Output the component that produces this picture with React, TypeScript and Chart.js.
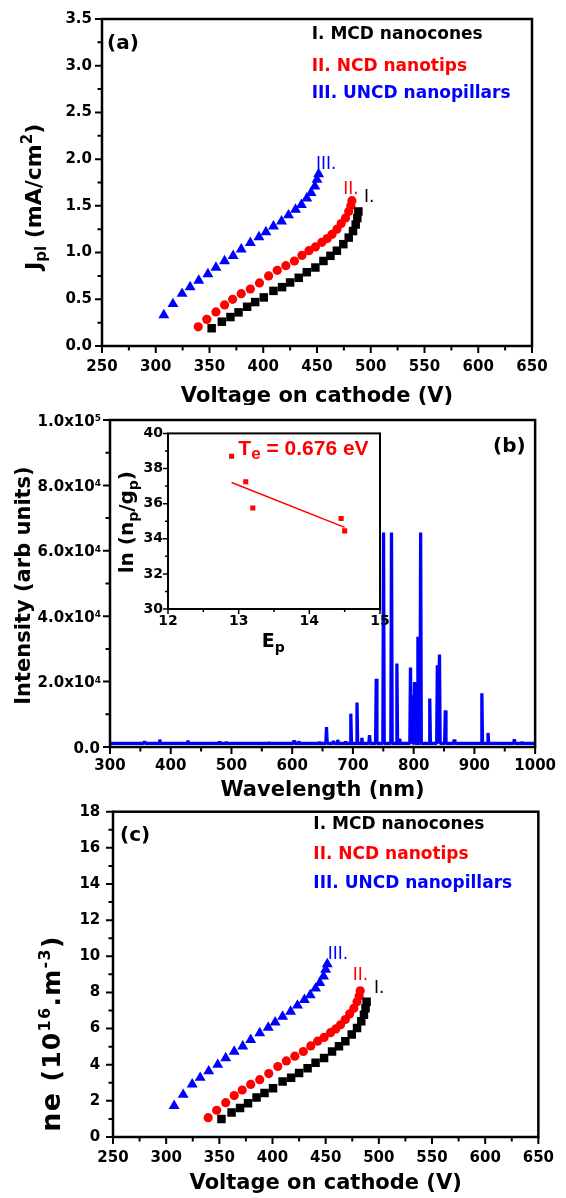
import React, { useEffect, useRef } from 'react';
import { Chart, registerables } from 'chart.js';

Chart.register(...registerables);

const DJ = '"DejaVu Sans", sans-serif';
const LS = '"Liberation Sans", Arial, sans-serif';
const BLACK = '#000000';
const RED = '#ff0000';
const BLUE = '#0000ff';

// ---------- Panel (a) / (c): cathode voltage (V)
const voltMCD = [352, 361.5, 369.5, 377, 385, 392.5, 400.5, 409.5, 417.5, 425, 433, 440.5, 448.5, 456, 462.5, 468.5, 474.5, 479.5, 483.5, 486, 487.5, 488.5];
const voltNCD = [339.5, 347.5, 356, 364, 371.5, 379.5, 388, 396.5, 405, 413, 421, 429, 436, 442.5, 448.5, 454.5, 459.5, 464, 468.5, 472.5, 476.5, 479.5, 481.5, 482.5];
const voltUNCD = [307.5, 316, 324.5, 332, 340, 348.5, 356, 364, 372, 379.5, 388, 396, 402.5, 409.5, 417, 423.5, 430, 435.5, 440.5, 444.5, 448, 450, 451.5];

// Panel (a): plasma current density J_pl (mA/cm^2)
const jplMCD = [0.19, 0.26, 0.31, 0.36, 0.42, 0.47, 0.52, 0.59, 0.63, 0.68, 0.73, 0.79, 0.84, 0.91, 0.965, 1.02, 1.09, 1.16, 1.23, 1.30, 1.37, 1.44];
const jplNCD = [0.205, 0.285, 0.365, 0.44, 0.50, 0.56, 0.61, 0.675, 0.75, 0.81, 0.86, 0.91, 0.97, 1.02, 1.06, 1.11, 1.15, 1.195, 1.25, 1.31, 1.37, 1.44, 1.50, 1.555];
const jplUNCD = [0.33, 0.45, 0.56, 0.63, 0.70, 0.77, 0.84, 0.91, 0.965, 1.035, 1.105, 1.165, 1.22, 1.28, 1.335, 1.40, 1.46, 1.51, 1.58, 1.64, 1.71, 1.78, 1.84];

// Panel (c): electron density n_e (10^16 m^-3)
const neMCD = [0.99, 1.35, 1.61, 1.87, 2.18, 2.44, 2.70, 3.07, 3.28, 3.54, 3.80, 4.11, 4.37, 4.73, 5.02, 5.30, 5.67, 6.03, 6.40, 6.76, 7.12, 7.49];
const neNCD = [1.07, 1.48, 1.90, 2.29, 2.60, 2.91, 3.17, 3.51, 3.90, 4.21, 4.47, 4.73, 5.04, 5.30, 5.51, 5.77, 5.98, 6.21, 6.50, 6.81, 7.12, 7.49, 7.80, 8.09];
const neUNCD = [1.72, 2.34, 2.91, 3.28, 3.64, 4.00, 4.37, 4.73, 5.02, 5.38, 5.75, 6.06, 6.34, 6.66, 6.94, 7.28, 7.59, 7.85, 8.22, 8.53, 8.89, 9.26, 9.57];

// Panel (b): emission spectrum
const peakWl = [357, 382, 428, 480, 491, 560, 603, 611, 645, 656.5, 668, 675, 688, 696.5, 706.7, 714.7, 727.3, 738.4, 750.4, 763.5, 772.4, 777, 794.8, 797.5, 801.5, 807, 811.5, 826.5, 839, 842.5, 852.1, 866.8, 912.3, 922.4, 965.8, 978.5];
const peakInt = [1800, 2300, 2000, 1700, 1700, 1500, 2000, 1800, 1500, 6100, 1900, 2200, 1700, 10200, 13600, 2800, 3600, 20900, 65600, 65600, 25500, 2500, 24300, 15800, 19900, 33700, 65600, 14800, 25000, 28300, 11200, 2300, 16400, 4300, 2400, 1500];
const SPEC_BASE = 1100;

// Inset: Boltzmann plot
const insetE = [12.9, 13.1, 13.2, 14.45, 14.5];
const insetLn = [38.7, 37.25, 35.75, 35.15, 34.45];
const fitE = [12.9, 14.5];
const fitLn = [37.2, 34.65];

// Tick values / labels
const aXTicks = [250, 300, 350, 400, 450, 500, 550, 600, 650];
const aYTicks = [0, 0.5, 1.0, 1.5, 2.0, 2.5, 3.0, 3.5];
const cYTicks = [0, 2, 4, 6, 8, 10, 12, 14, 16, 18];
const bXTicks = [300, 400, 500, 600, 700, 800, 900, 1000];
const bYTicks = [0, 20000, 40000, 60000, 80000, 100000];
const bYMant = ['0.0', '2.0', '4.0', '6.0', '8.0', '1.0'];
const bYExp = ['', '4', '4', '4', '4', '5'];
const inXTicks = [12, 13, 14, 15];
const inYTicks = [30, 32, 34, 36, 38, 40];

const legendNames = ['I. MCD nanocones', 'II. NCD nanotips', 'III. UNCD nanopillars'];
const curveTags = ['I.', 'II.', 'III.'];

type Seg = { t: string; size: number; dy?: number; weight?: string; family?: string };

function drawSegs(ctx: any, segs: Seg[], x: number, y: number, o: { color: string; rotate?: boolean; align?: 'left' | 'center' | 'right'; spacing?: number }) {
  ctx.save();
  ctx.fillStyle = o.color;
  ctx.textBaseline = 'alphabetic';
  ctx.textAlign = 'left';
  if ('letterSpacing' in ctx) ctx.letterSpacing = (o.spacing ?? 0) + 'px';
  const f = (s: Seg) => `${s.weight ?? 'bold'} ${s.size}px ${s.family ?? DJ}`;
  let total = 0;
  for (const s of segs) { ctx.font = f(s); total += ctx.measureText(s.t).width; }
  ctx.translate(x, y);
  if (o.rotate) ctx.rotate(-Math.PI / 2);
  let cx = o.align === 'center' ? -total / 2 : o.align === 'right' ? -total : 0;
  for (const s of segs) { ctx.font = f(s); ctx.fillText(s.t, cx, s.dy ?? 0); cx += ctx.measureText(s.t).width; }
  ctx.restore();
}

type Spec = { xMajor: number; xMinor: number; yMajor: number; yMinor: number; majorLen: number; minorLen: number; frame: number; tickW: number };

function frameTicks(spec: Spec, extra?: (chart: any, ctx: any) => void) {
  return {
    id: 'frameTicks',
    afterDraw(chart: any) {
      const ctx = chart.ctx;
      const { left, right, top, bottom } = chart.chartArea;
      const xs = chart.scales.x;
      const ys = chart.scales.y;
      ctx.save();
      ctx.strokeStyle = BLACK;
      ctx.lineWidth = spec.tickW;
      ctx.beginPath();
      for (let i = 0; xs.min + i * spec.xMinor <= xs.max + 1e-9; i++) {
        const v = xs.min + i * spec.xMinor;
        const r = v / spec.xMajor;
        const major = Math.abs(r - Math.round(r)) < 1e-6;
        const px = xs.getPixelForValue(v);
        ctx.moveTo(px, bottom);
        ctx.lineTo(px, bottom + (major ? spec.majorLen : spec.minorLen));
      }
      for (let i = 0; ys.min + i * spec.yMinor <= ys.max + 1e-9; i++) {
        const v = ys.min + i * spec.yMinor;
        const r = v / spec.yMajor;
        const major = Math.abs(r - Math.round(r)) < 1e-6;
        const py = ys.getPixelForValue(v);
        ctx.moveTo(left, py);
        ctx.lineTo(left - (major ? spec.majorLen : spec.minorLen), py);
      }
      ctx.stroke();
      ctx.lineWidth = spec.frame;
      ctx.strokeRect(left, top, right - left, bottom - top);
      ctx.restore();
      if (extra) extra(chart, ctx);
    },
  };
}

function axis(min: number, max: number, ticks: number[], fmt: (v: number) => string, size: number, pad: number, fontSize: number, isX: boolean, show = true) {
  return {
    type: 'linear',
    min,
    max,
    afterBuildTicks: (s: any) => { s.ticks = ticks.map((v) => ({ value: v })); },
    afterFit: (s: any) => { if (isX) s.height = size; else s.width = size; },
    ticks: {
      display: show,
      callback: (v: any) => fmt(Number(v)),
      font: { family: DJ, size: fontSize, weight: 'bold' },
      color: BLACK,
      padding: pad,
      maxRotation: 0,
      minRotation: 0,
      autoSkip: false,
    },
    grid: { display: false, drawTicks: false },
    border: { display: false },
  };
}

const pts = (xs: number[], ys: number[]) => xs.map((x, i) => ({ x, y: ys[i] }));

function seriesSets(yMCD: number[], yNCD: number[], yUNCD: number[]) {
  return [
    { data: pts(voltMCD, yMCD), pointStyle: 'rect', pointRadius: 6, backgroundColor: BLACK, borderWidth: 0, showLine: false },
    { data: pts(voltNCD, yNCD), pointStyle: 'circle', pointRadius: 4.6, backgroundColor: RED, borderWidth: 0, showLine: false },
    { data: pts(voltUNCD, yUNCD), pointStyle: 'triangle', pointRadius: 6.3, backgroundColor: BLUE, borderWidth: 0, showLine: false },
  ];
}

function drawLegend(ctx: any, x: number, baselines: number[], tagPos: number[][]) {
  const cols = [BLACK, RED, BLUE];
  legendNames.forEach((n, i) => drawSegs(ctx, [{ t: n, size: 17 }], x, baselines[i], { color: cols[i] }));
  curveTags.forEach((t, i) => drawSegs(ctx, [{ t, size: 17, weight: 'normal' }], tagPos[i][0], tagPos[i][1], { color: cols[i] }));
}

const baseOpts = (padding: any) => ({
  responsive: false,
  maintainAspectRatio: false,
  animation: false,
  layout: { padding },
  plugins: { legend: { display: false }, tooltip: { enabled: false } },
});

function makeA() {
  return {
    type: 'scatter',
    data: { datasets: seriesSets(jplMCD, jplNCD, jplUNCD) },
    options: {
      ...baseOpts({ left: 0, top: 16, right: 34, bottom: 0 }),
      scales: {
        x: axis(250, 650, aXTicks, (v) => String(v), 59, 12, 15, true),
        y: axis(0, 3.5, aYTicks, (v) => v.toFixed(1), 102, 10, 15, false),
      },
    },
    plugins: [frameTicks({ xMajor: 50, xMinor: 25, yMajor: 0.5, yMinor: 0.25, majorLen: 7, minorLen: 4.5, frame: 2.5, tickW: 2 }, (chart, ctx) => {
      const { left, right } = chart.chartArea;
      drawSegs(ctx, [{ t: '(a)', size: 20 }], 107, 49, { color: BLACK });
      drawLegend(ctx, 311.7, [39.3, 71, 97.7], [[364, 202.3], [343.3, 194], [316, 169.3]]);
      drawSegs(ctx, [{ t: 'Voltage on cathode (V)', size: 21 }], (left + right) / 2, 401.5, { color: BLACK, align: 'center' });
      drawSegs(ctx, [{ t: 'J', size: 22 }, { t: 'pl', size: 15, dy: 5 }, { t: ' (mA/cm', size: 22 }, { t: '2', size: 15, dy: -9 }, { t: ')', size: 22 }], 41, 270, { color: BLACK, rotate: true });
    })],
  };
}

function makeB() {
  const spectrum: { x: number; y: number }[] = [{ x: 300, y: SPEC_BASE }];
  peakWl.forEach((w, i) => {
    spectrum.push({ x: w - 1.1, y: SPEC_BASE }, { x: w, y: peakInt[i] }, { x: w + 1.1, y: SPEC_BASE });
  });
  spectrum.push({ x: 1000, y: SPEC_BASE });
  return {
    type: 'scatter',
    data: {
      datasets: [
        { data: spectrum, showLine: true, borderColor: BLUE, borderWidth: 3.3, pointRadius: 0, borderJoinStyle: 'bevel', tension: 0 },
      ],
    },
    options: {
      ...baseOpts({ left: 0, top: 15, right: 24, bottom: 0 }),
      scales: {
        x: axis(300, 1000, bXTicks, (v) => String(v), 58, 10, 15, true),
        y: axis(0, 100000, bYTicks, (v) => String(v), 110, 10, 15, false, false),
      },
    },
    plugins: [frameTicks({ xMajor: 100, xMinor: 50, yMajor: 20000, yMinor: 10000, majorLen: 7, minorLen: 4.5, frame: 2.5, tickW: 2 }, (chart, ctx) => {
      const { left, right, top, bottom } = chart.chartArea;
      const ys = chart.scales.y;
      bYTicks.forEach((v, i) => {
        const py = ys.getPixelForValue(v);
        if (bYExp[i]) {
          drawSegs(ctx, [{ t: bYMant[i] + 'x10', size: 15 }, { t: bYExp[i], size: 9, dy: -4.5 }], 101, py + 5.5, { color: BLACK, align: 'right' });
        } else {
          drawSegs(ctx, [{ t: bYMant[i], size: 15 }], 100, py + 5.5, { color: BLACK, align: 'right' });
        }
      });
      drawSegs(ctx, [{ t: '(b)', size: 20 }], 493, 47.4, { color: BLACK });
      drawSegs(ctx, [{ t: 'Wavelength (nm)', size: 21 }], (left + right) / 2, 390.6, { color: BLACK, align: 'center' });
      drawSegs(ctx, [{ t: 'Intensity (arb units)', size: 21 }], 30, (top + bottom) / 2 + 2, { color: BLACK, rotate: true, align: 'center' });
    })],
  };
}

function makeInset() {
  return {
    type: 'scatter',
    data: {
      datasets: [
        { data: pts(fitE, fitLn), showLine: true, borderColor: RED, borderWidth: 1.5, pointRadius: 0 },
        { data: pts(insetE, insetLn), pointStyle: 'rect', pointRadius: 3.6, backgroundColor: RED, borderWidth: 0, showLine: false },
      ],
    },
    options: {
      ...baseOpts({ left: 0, top: 10, right: 22, bottom: 0 }),
      scales: {
        x: axis(12, 15, inXTicks, (v) => String(v), 56, 4, 14, true),
        y: axis(30, 40, inYTicks, (v) => String(v), 56, 5, 14, false),
      },
    },
    plugins: [frameTicks({ xMajor: 1, xMinor: 0.5, yMajor: 2, yMinor: 1, majorLen: 5, minorLen: 3, frame: 2, tickW: 1.5 }, (chart, ctx) => {
      drawSegs(ctx, [{ t: 'T', size: 21, family: LS }, { t: 'e', size: 17, dy: 4, family: LS }, { t: ' = 0.676 eV', size: 21, family: LS }], 126.3, 35, { color: RED });
      drawSegs(ctx, [{ t: 'E', size: 19 }, { t: 'p', size: 14, dy: 5 }], 149.7, 226.7, { color: BLACK });
      drawSegs(ctx, [{ t: 'ln (n', size: 20 }, { t: 'p', size: 14, dy: 5 }, { t: '/g', size: 20 }, { t: 'p', size: 14, dy: 5 }, { t: ')', size: 20 }], 21, 153.3, { color: BLACK, rotate: true });
    })],
  };
}

function makeC() {
  return {
    type: 'scatter',
    data: { datasets: seriesSets(neMCD, neNCD, neUNCD) },
    options: {
      ...baseOpts({ left: 0, top: 17, right: 24, bottom: 0 }),
      scales: {
        x: axis(250, 650, aXTicks, (v) => String(v), 61, 12, 15, true),
        y: axis(0, 18, cYTicks, (v) => String(v), 113, 12.7, 15, false),
      },
    },
    plugins: [frameTicks({ xMajor: 50, xMinor: 25, yMajor: 2, yMinor: 1, majorLen: 7, minorLen: 4.5, frame: 2.5, tickW: 2 }, (chart, ctx) => {
      const { left, right } = chart.chartArea;
      drawSegs(ctx, [{ t: '(c)', size: 20 }], 120, 50.7, { color: BLACK });
      drawLegend(ctx, 313.3, [39.3, 69.3, 97.7], [[374, 203.3], [352.7, 190], [327.7, 169.3]]);
      drawSegs(ctx, [{ t: 'Voltage on cathode (V)', size: 21 }], (left + right) / 2, 399, { color: BLACK, align: 'center' });
      drawSegs(ctx, [{ t: 'ne', size: 27 }, { t: ' (10', size: 25 }, { t: '16', size: 16, dy: -10 }, { t: '.m', size: 25 }, { t: '-3', size: 16, dy: -10 }, { t: ')', size: 25 }], 60, 341.7, { color: BLACK, rotate: true, spacing: 1.3 });
    })],
  };
}

function PanelCanvas({ left, top, width, height, make }: { left: number; top: number; width: number; height: number; make: () => any }) {
  const ref = useRef<HTMLCanvasElement>(null);
  useEffect(() => {
    const chart = new Chart(ref.current as HTMLCanvasElement, make());
    return () => chart.destroy();
  }, []);
  return <canvas ref={ref} width={width} height={height} style={{ position: 'absolute', left, top, width, height }} />;
}

export default function App() {
  return (
    <div style={{ position: 'absolute', left: 0, top: 0, width: 566, height: 1198, background: '#ffffff', overflow: 'hidden' }}>
      <PanelCanvas left={0} top={0} width={566} height={405} make={makeA} />
      <PanelCanvas left={0} top={405} width={566} height={400} make={makeB} />
      <PanelCanvas left={112} top={420} width={290} height={245} make={makeInset} />
      <PanelCanvas left={0} top={790} width={566} height={408} make={makeC} />
    </div>
  );
}
